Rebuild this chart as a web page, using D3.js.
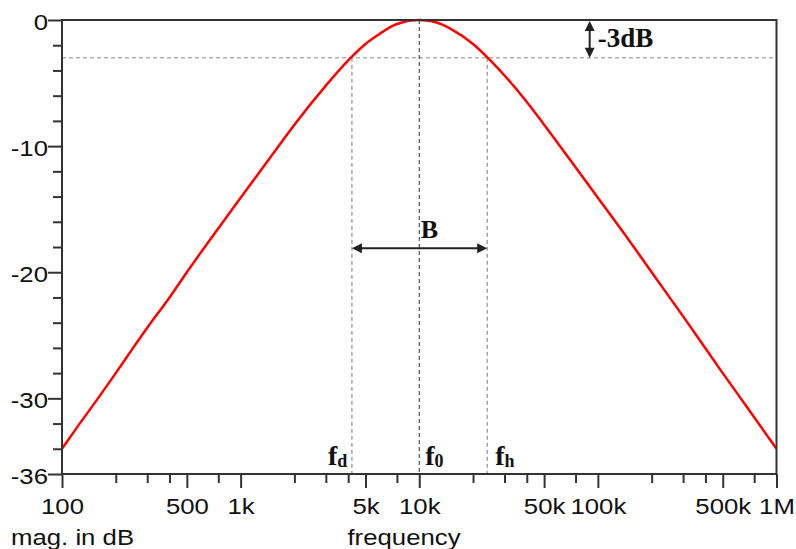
<!DOCTYPE html>
<html>
<head>
<meta charset="utf-8">
<script src="https://cdn.jsdelivr.net/npm/d3@7"></script>
<style>
  html, body { margin: 0; padding: 0; background: #fff; }
  svg { display: block; }
</style>
</head>
<body>
<svg id="chart" width="796" height="549"></svg>
<script>
// ---- data ----
const freq = [100, 120, 150, 200, 250, 300, 400, 500, 700, 1000, 1500, 2000, 3000, 4000, 5000, 6000, 7000, 8000, 9000,
              10000, 11000, 12500, 15000, 20000, 25000, 30000, 40000, 50000, 70000, 100000, 150000, 200000, 300000,
              500000, 700000, 1000000];
const magDb = [-34.0, -32.4, -30.5, -28.0, -26.0, -24.4, -22.0, -20.0, -17.1, -14.1, -10.7, -8.3, -5.2, -3.2, -1.9, -1.1, -0.5, -0.2, -0.05,
               0, -0.04, -0.2, -0.7, -1.9, -3.2, -4.4, -6.5, -8.3, -11.1, -14.1, -17.5, -20.0, -23.5,
               -28.0, -30.9, -34.0];
const xMajorTicks = [100, 500, 1000, 5000, 10000, 50000, 100000, 500000, 1000000];
const xMajorLabels = ["100", "500", "1k", "5k", "10k", "50k", "100k", "500k", "1M"];
const xMinorTicks = [200, 300, 400, 750, 2000, 3000, 4000, 7500, 20000, 30000, 40000, 75000,
                     200000, 300000, 400000, 750000];
const yMajorTicks = [0, -10, -20, -30, -36];
const yMajorLabels = ["0", "-10", "-20", "-30", "-36"];
const yMinorTicks = [-2, -4, -6, -8, -12, -14, -16, -18, -22, -24, -26, -28, -32, -34];
const fMarkers = [ {name: "d", f: 4200, from: -3}, {name: "0", f: 10000, from: 0}, {name: "h", f: 24000, from: -3} ];
const cutoffDb = -3;
const xTitle = "frequency";
const yTitle = "mag. in dB";

(function () {
// ---- layout ----
const svg = d3.select("#chart");
const mLeft = 62, mRight = 776.5, mTop = 20, mBottom = 474;
const x = d3.scaleLog().domain([100, 1000000]).range([mLeft, mRight]);
const y = d3.scaleLinear().domain([0, -36]).range([mTop, mBottom]);
const sx = 1.12;          // horizontal stretch of sans text in the reference
const axisFont = "Liberation Sans, Arial, sans-serif";
const serif = "Liberation Serif, 'Times New Roman', serif";
const fs = "23px";

// dashed guide lines
svg.append("line")
  .attr("x1", mLeft).attr("x2", mRight)
  .attr("y1", y(cutoffDb)).attr("y2", y(cutoffDb))
  .attr("stroke", "#888").attr("stroke-width", 1).attr("stroke-dasharray", "4,3");

svg.selectAll("line.fm").data(fMarkers).join("line")
  .attr("class", "fm")
  .attr("x1", d => x(d.f)).attr("x2", d => x(d.f))
  .attr("y1", d => y(d.from)).attr("y2", mBottom)
  .attr("stroke", d => d.name === "0" ? "#333" : "#777")
  .attr("stroke-width", 1).attr("stroke-dasharray", "4,3");

// curve
const pts = freq.map((f, i) => [f, magDb[i]]);
svg.append("path")
  .datum(pts)
  .attr("fill", "none")
  .attr("stroke", "#ff0000")
  .attr("stroke-width", 2.5)
  .attr("d", d3.line().x(d => x(d[0])).y(d => y(d[1])).curve(d3.curveMonotoneX));

// axes (ticks)
const gx = svg.append("g").attr("transform", `translate(0,${mBottom})`);
gx.call(d3.axisBottom(x).tickValues(xMinorTicks).tickSize(9).tickFormat(""));
const gxm = svg.append("g").attr("transform", `translate(0,${mBottom})`);
gxm.call(d3.axisBottom(x).tickValues(xMajorTicks).tickSize(14).tickPadding(10)
  .tickFormat((d, i) => xMajorLabels[i]));

const gy = svg.append("g").attr("transform", `translate(${mLeft},0)`);
gy.call(d3.axisLeft(y).tickValues(yMinorTicks).tickSize(9).tickFormat(""));
const gym = svg.append("g").attr("transform", `translate(${mLeft},0)`);
gym.call(d3.axisLeft(y).tickValues(yMajorTicks).tickSize(14).tickPadding(-1.5)
  .tickFormat((d, i) => yMajorLabels[i]));

[gx, gxm, gy, gym].forEach(g => {
  g.select(".domain").remove();
  g.selectAll(".tick line").attr("stroke", "#333").attr("stroke-width", 2);
  g.selectAll(".tick text")
    .attr("fill", "#111")
    .style("font-family", axisFont)
    .style("font-size", fs)
    .attr("transform", `scale(${sx},1)`);
});
gym.selectAll(".tick text").attr("dy", "0.4em");

// frame
svg.append("rect")
  .attr("x", mLeft).attr("y", mTop)
  .attr("width", mRight - mLeft).attr("height", mBottom - mTop)
  .attr("fill", "none").attr("stroke", "#333").attr("stroke-width", 2);

// axis titles
svg.append("text")
  .attr("transform", `translate(11,545) scale(${sx},1)`)
  .style("font-family", axisFont).style("font-size", fs).attr("fill", "#111")
  .text(yTitle);
svg.append("text")
  .attr("transform", `translate(404,545) scale(${sx},1)`)
  .attr("text-anchor", "middle")
  .style("font-family", axisFont).style("font-size", fs).attr("fill", "#111")
  .text(xTitle);

// arrows
function arrowHead(g, xTip, yTip, dir) {
  const L = 10, W = 5;
  let p;
  if (dir === "l") p = [[xTip, yTip], [xTip + L, yTip - W], [xTip + L, yTip + W]];
  if (dir === "r") p = [[xTip, yTip], [xTip - L, yTip - W], [xTip - L, yTip + W]];
  if (dir === "u") p = [[xTip, yTip], [xTip - W, yTip + L], [xTip + W, yTip + L]];
  if (dir === "d") p = [[xTip, yTip], [xTip - W, yTip - L], [xTip + W, yTip - L]];
  g.append("path").attr("d", "M" + p.map(q => q.join(",")).join("L") + "Z").attr("fill", "#222");
}

// bandwidth arrow
const yB = y(-18.1);
const ag = svg.append("g");
const xd = x(fMarkers[0].f), xh = x(fMarkers[2].f);
ag.append("line").attr("x1", xd + 4).attr("x2", xh - 4).attr("y1", yB).attr("y2", yB)
  .attr("stroke", "#222").attr("stroke-width", 2.2);
arrowHead(ag, xd, yB, "l");
arrowHead(ag, xh, yB, "r");
svg.append("text")
  .attr("x", (x(10000) + x(12000)) / 2 + 3).attr("y", yB - 10)
  .attr("text-anchor", "middle")
  .style("font-family", serif).style("font-size", "26px").style("font-weight", "bold")
  .attr("fill", "#111").text("B");

// -3 dB arrow
const x3 = x(90000);
ag.append("line").attr("x1", x3).attr("x2", x3).attr("y1", y(0) + 4).attr("y2", y(cutoffDb) - 4)
  .attr("stroke", "#222").attr("stroke-width", 2);
arrowHead(ag, x3, y(0) + 1, "u");
arrowHead(ag, x3, y(cutoffDb), "d");
svg.append("text")
  .attr("x", x3 + 8).attr("y", 47)
  .style("font-family", serif).style("font-size", "27px").style("font-weight", "bold")
  .attr("fill", "#111").text("-3dB");

// f labels
const offs = {"d": -24, "0": 6, "h": 8};
fMarkers.forEach(m => {
  const t = svg.append("text")
    .attr("x", x(m.f) + offs[m.name]).attr("y", 465)
    .style("font-family", serif).style("font-size", "28px").style("font-weight", "bold")
    .attr("fill", "#111");
  t.append("tspan").text("f");
  t.append("tspan").attr("dy", 2).style("font-size", "18px").text(m.name);
});
})();
</script>
</body>
</html>
